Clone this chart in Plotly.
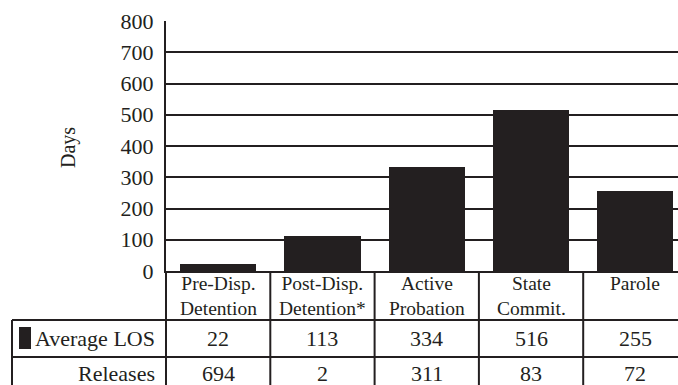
import plotly.graph_objects as go

# 数据
categories = ["Pre-Disp.<br>Detention", "Post-Disp.<br>Detention*", "Active<br>Probation",
              "State<br>Commit.", "Parole"]
average_los = [22, 113, 334, 516, 255]
releases = [694, 2, 311, 83, 72]
row_labels = ["Average LOS", "Releases"]
y_ticks = [0, 100, 200, 300, 400, 500, 600, 700, 800]

W, H = 678, 385
LEFT, TOP = 166, 21
COL_W = 104.3
INK = "#231f20"
FONT = "Liberation Serif"


def px_x(p):
    # 像素 -> paper x
    return (p - LEFT) / (W - LEFT)


def px_y(p):
    # 像素 -> paper y
    return (H - p) / (H - TOP)


fig = go.Figure()

fig.add_trace(go.Bar(
    x=list(range(len(categories))),
    y=average_los,
    width=0.73,
    marker=dict(color=INK, line=dict(width=0)),
    showlegend=False,
    hoverinfo="skip",
))

# 表格文字
annotations = []
for i, c in enumerate(categories):
    annotations.append(dict(x=i, y=px_y(271), xref="x", yref="paper", text=c,
                            showarrow=False, xanchor="center", yanchor="top",
                            font=dict(size=19.5)))
for i, v in enumerate(average_los):
    annotations.append(dict(x=i, y=px_y(338), xref="x", yref="paper", text=str(v),
                            showarrow=False, xanchor="center", yanchor="middle"))
for i, v in enumerate(releases):
    annotations.append(dict(x=i, y=px_y(373), xref="x", yref="paper", text=str(v),
                            showarrow=False, xanchor="center", yanchor="middle"))
for label, yp in zip(row_labels, [338, 373]):
    annotations.append(dict(x=px_x(157), y=px_y(yp), xref="paper", yref="paper", text=label,
                            showarrow=False, xanchor="right", yanchor="middle"))
annotations.append(dict(x=px_x(68), y=px_y(148), xref="paper", yref="paper", text="Days",
                        textangle=-90, showarrow=False, xanchor="center", yanchor="middle",
                        font=dict(size=20)))

# 表格线
line = dict(color=INK, width=2)
shapes = []
for yp in [320, 357]:
    shapes.append(dict(type="line", xref="paper", yref="paper", x0=px_x(12), x1=1,
                       y0=px_y(yp), y1=px_y(yp), line=line))
shapes.append(dict(type="line", xref="paper", yref="paper", x0=px_x(12), x1=px_x(12),
                   y0=px_y(320), y1=0, line=line))
shapes.append(dict(type="line", xref="paper", yref="paper", x0=0, x1=0,
                   y0=px_y(271), y1=0, line=line))
for i in range(len(categories) - 1):
    shapes.append(dict(type="line", xref="x", yref="paper", x0=i + 0.5, x1=i + 0.5,
                       y0=px_y(271), y1=0, line=line))
# 图例方块
shapes.append(dict(type="rect", xref="paper", yref="paper", x0=px_x(19), x1=px_x(31),
                   y0=px_y(349), y1=px_y(327), fillcolor=INK, line=dict(width=0)))

fig.update_layout(
    width=W,
    height=H,
    margin=dict(l=LEFT, r=0, t=TOP, b=0),
    plot_bgcolor="white",
    paper_bgcolor="white",
    font=dict(family=FONT, size=22, color=INK),
    bargap=0,
    xaxis=dict(
        range=[-0.5, -0.5 + (W - LEFT) / COL_W],
        showticklabels=False,
        ticks="",
        showgrid=False,
        zeroline=False,
        showline=True,
        linecolor=INK,
        linewidth=2,
        automargin=False,
        fixedrange=True,
    ),
    yaxis=dict(
        domain=[px_y(271), 1],
        range=[0, 800],
        tickmode="array",
        tickvals=y_ticks,
        ticks="",
        ticklabelstandoff=6,
        tickfont=dict(size=22),
        showgrid=True,
        gridcolor=INK,
        gridwidth=2,
        zeroline=False,
        showline=True,
        linecolor=INK,
        linewidth=2,
        automargin=False,
        fixedrange=True,
    ),
    annotations=annotations,
    shapes=shapes,
)

# 去掉页面默认边距
fig.write_html("out.html", config={"displayModeBar": False},
               post_script="document.body.style.margin='0';document.body.style.overflow='hidden';")
